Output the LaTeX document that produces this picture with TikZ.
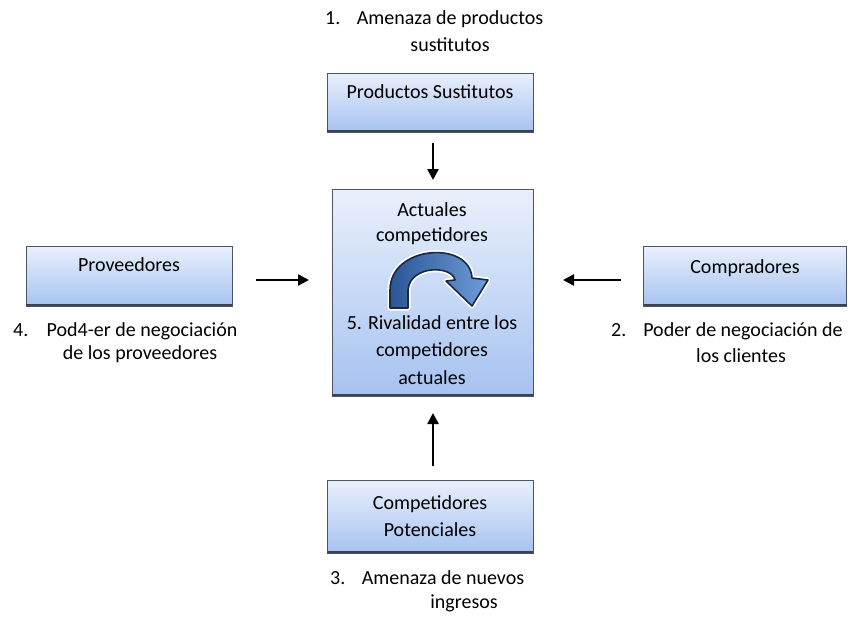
\documentclass[tikz,border=0pt]{standalone}
\usepackage{fontspec}
\setmainfont{Carlito}
\usetikzlibrary{arrows.meta}

\definecolor{boxtop}{HTML}{E9F0FC}
\definecolor{boxbot}{HTML}{A6C2F0}
\definecolor{boxline}{HTML}{4B5566}
\definecolor{boxshadow}{HTML}{3A4250}
\definecolor{swirldark}{HTML}{2C5696}
\definecolor{swirllight}{HTML}{6E9DD8}
\definecolor{swirlline}{HTML}{1A2940}

\tikzset{
  forcebox/.style={draw=boxline, line width=0.9pt, top color=boxtop, bottom color=boxbot,
    inner sep=0pt, outer sep=0pt},
  boxtext/.style={anchor=base, inner sep=0pt, font=\fontsize{20}{24}\selectfont},
  labeltext/.style={anchor=base, inner sep=0pt, font=\fontsize{20}{24}\selectfont},
  flow/.style={line width=2.4pt, -{Triangle[length=11pt,width=11pt]}},
}

\begin{document}
\begin{tikzpicture}[x=1pt, y=-1pt]
\useasboundingbox (0,0) rectangle (850,622);

% --- boxes ---
\node[forcebox, minimum width=206pt, minimum height=59pt] (sust) at (430,102.5) {};
\node[forcebox, minimum width=201pt, minimum height=207pt] (rival) at (432.5,292.5) {};
\node[forcebox, minimum width=206pt, minimum height=60pt] (prov) at (129,276) {};
\node[forcebox, minimum width=203pt, minimum height=60pt] (comp) at (745,276) {};
\node[forcebox, minimum width=206pt, minimum height=73pt] (pot) at (430,516.5) {};

% darker lower edge of each box
\foreach \b in {sust,rival,prov,comp,pot}
  \draw[boxshadow, line width=2.6pt] ([yshift=1pt]\b.south west) -- ([yshift=1pt]\b.south east);

% --- texts inside boxes ---
\node[boxtext] (tsust) at (430,98) {Productos Sustitutos};
\node[boxtext] (tprov) at (129,271) {Proveedores};
\node[boxtext] (tcomp) at (745,273) {Compradores};
\node[boxtext] (tpot1) at (430,509) {Competidores};
\node[boxtext] (tpot2) at (430,536) {Potenciales};
\node[boxtext] (tr1) at (432,216) {Actuales};
\node[boxtext] (tr2) at (432,241) {competidores};
\node[boxtext] (tr3) at (432,329) {5. Rivalidad entre los};
\node[boxtext] (tr4) at (432,356) {competidores};
\node[boxtext] (tr5) at (432,384) {actuales};

% --- curved arrow inside the central box ---
\path[draw=white, line width=5pt, line join=round]
  (390,308) -- (390,290) .. controls (390,245) and (470,240) .. (472,278)
  -- (488,280) -- (472,306) -- (446,281) -- (455,280)
  .. controls (452,265) and (410,265) .. (408,290) -- (408,308) -- cycle;
\shadedraw[left color=swirldark, right color=swirllight, draw=swirlline, line width=1.6pt, line join=round]
  (390,308) -- (390,290) .. controls (390,245) and (470,240) .. (472,278)
  -- (488,280) -- (472,306) -- (446,281) -- (455,280)
  .. controls (452,265) and (410,265) .. (408,290) -- (408,308) -- cycle;

% --- outer labels ---
\node[labeltext, anchor=base west] (n1) at (325,24) {1.};
\node[labeltext] (l1a) at (450,24) {Amenaza de productos};
\node[labeltext] (l1b) at (450,51) {sustitutos};

\node[labeltext, anchor=base west] (n4) at (13,336) {4.};
\node[labeltext] (l4a) at (142,336) {Pod4-er de negociación};
\node[labeltext] (l4b) at (140,359) {de los proveedores};

\node[labeltext, anchor=base west] (n2) at (611,336) {2.};
\node[labeltext] (l2a) at (743,336) {Poder de negociación de};
\node[labeltext] (l2b) at (741,362) {los clientes};

\node[labeltext, anchor=base west] (n3) at (330,584) {3.};
\node[labeltext] (l3a) at (443,584) {Amenaza de nuevos};
\node[labeltext] (l3b) at (464,608) {ingresos};

% --- forces acting on the central box ---
\draw[flow, shorten <=11pt, shorten >=9pt] ([xshift=3pt]sust.south) -- ([xshift=0.5pt]rival.north);
\draw[flow, shorten <=24pt, shorten >=23pt] ([yshift=-4pt]prov.east) -- ([yshift=12.5pt]rival.west);
\draw[flow, shorten <=23pt, shorten >=30pt] ([yshift=-4pt]comp.west) -- ([yshift=12.5pt]rival.east);
\draw[flow, shorten <=14pt, shorten >=17pt] ([xshift=3pt]pot.north) -- ([xshift=0.5pt]rival.south);
\end{tikzpicture}
\end{document}
